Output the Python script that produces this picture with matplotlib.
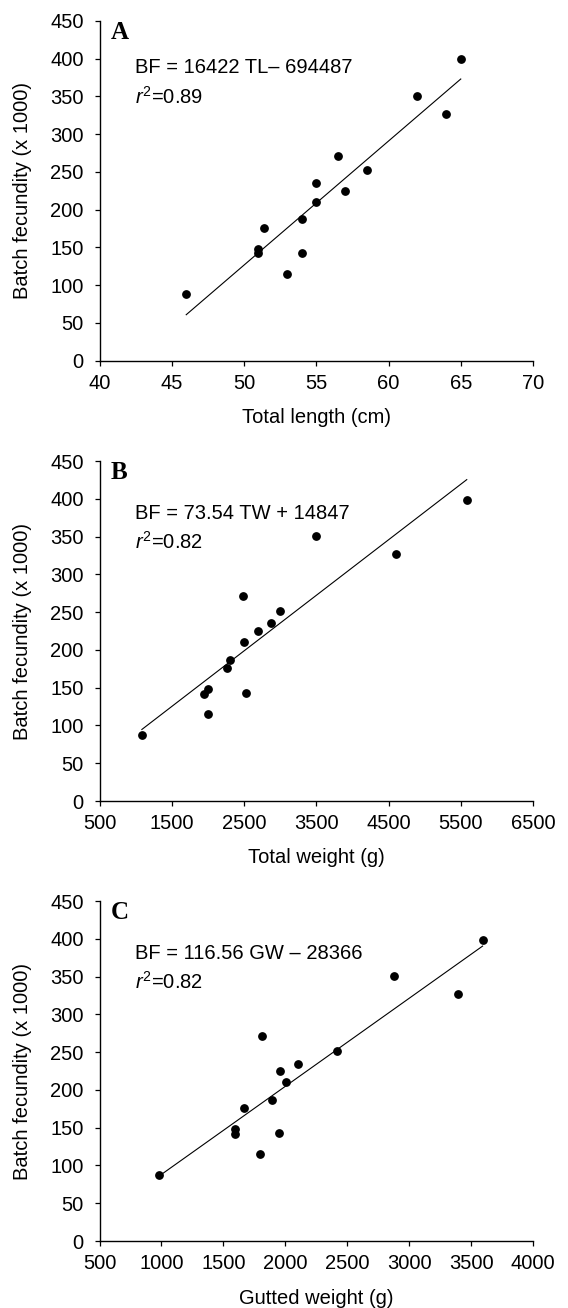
import matplotlib
matplotlib.use("Agg")
import matplotlib.pyplot as plt
import numpy as np

plt.rcParams['font.family'] = ['Liberation Sans', 'DejaVu Sans']
plt.rcParams['mathtext.fontset'] = 'custom'
plt.rcParams['mathtext.rm'] = 'Liberation Sans'
plt.rcParams['mathtext.it'] = 'Liberation Sans:italic'

# batch fecundity (x 1000), same fish in every panel
bf = [88, 148, 142, 176, 115, 187, 143, 235, 210, 271, 225, 252, 351, 327, 399]
total_length = [46, 51, 51, 51.4, 53, 54, 54, 55, 55, 56.5, 57, 58.5, 62, 64, 65]
total_weight = [1086, 2002, 1952, 2258, 2002, 2308, 2533, 2869, 2498, 2483, 2693, 2994, 3495, 4602, 5583]
gutted_weight = [983, 1593, 1593, 1669, 1792, 1894, 1950, 2102, 2008, 1815, 1959, 2419, 2881, 3397, 3593]

# regression coefficients (slope, intercept) in fish units
fit_tl = (16422, -694487)
fit_tw = (73.54, 14847)
fit_gw = (116.56, -28366)

panels = [
    ("A", total_length, fit_tl, "BF = 16422 TL\u2013 694487", r"$r^{2}$=0.89",
     "Total length (cm)", (40, 70), np.arange(40, 71, 5), 0.847, 0.755),
    ("B", total_weight, fit_tw, "BF = 73.54 TW + 14847", r"$r^{2}$=0.82",
     "Total weight (g)", (500, 6500), np.arange(500, 6501, 1000), 0.831, 0.741),
    ("C", gutted_weight, fit_gw, "BF = 116.56 GW \u2013 28366", r"$r^{2}$=0.82",
     "Gutted weight (g)", (500, 4000), np.arange(500, 4001, 500), 0.831, 0.741),
]
bottoms = [0.7242, 0.3876, 0.0512]

fig = plt.figure(figsize=(5.68, 13.08), dpi=100)

for (letter, x, fit, eq, r2, xlabel, xlim, xticks, eq_y, r2_y), b in zip(panels, bottoms):
    ax = fig.add_axes([0.1752, b, 0.7632, 0.2599])
    x = np.array(x, dtype=float)
    ax.scatter(x, bf, s=28, color='black', zorder=3)
    xx = np.array([x.min(), x.max()])
    ax.plot(xx, (fit[0] * xx + fit[1]) / 1000, color='black', linewidth=0.8)

    ax.set_xlim(*xlim)
    ax.set_ylim(0, 450)
    ax.set_xticks(xticks)
    ax.set_yticks(np.arange(0, 451, 50))
    for s in ['top', 'right']:
        ax.spines[s].set_visible(False)
    for s in ['left', 'bottom']:
        ax.spines[s].set_linewidth(1.0)
    ax.tick_params(direction='out', length=3.5, width=0.9, labelsize=14.5)
    ax.tick_params(axis='y', pad=8)
    ax.tick_params(axis='x', pad=6)
    ax.set_xlabel(xlabel, fontsize=14.5, labelpad=11)
    ax.set_ylabel('Batch fecundity (x 1000)', fontsize=14.5, labelpad=13)

    ax.text(0.025, 0.946, letter, transform=ax.transAxes, fontsize=18,
            fontweight='bold', family='Liberation Serif')
    ax.text(0.083, eq_y, eq, transform=ax.transAxes, fontsize=14.5)
    ax.text(0.083, r2_y, r2, transform=ax.transAxes, fontsize=14.5)

fig.savefig('out.png', dpi=100)
